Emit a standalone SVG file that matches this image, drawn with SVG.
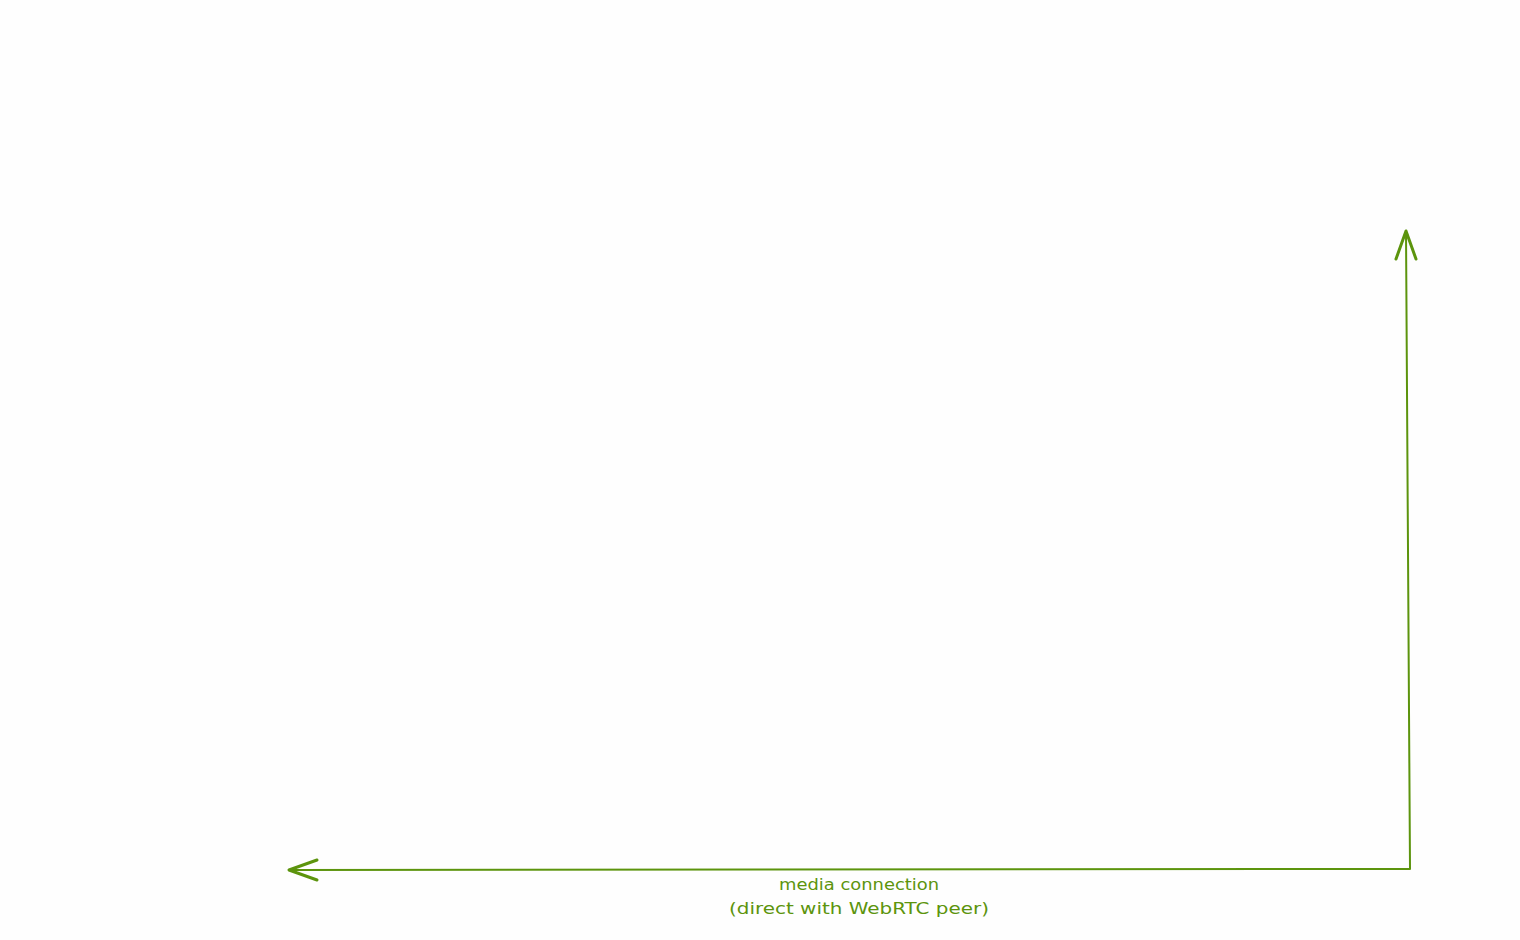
<svg xmlns="http://www.w3.org/2000/svg" width="1520" height="940" viewBox="0 0 1520 940">
<style>
.conn{fill:none;stroke:#5c940d;stroke-width:2;stroke-linecap:round;stroke-linejoin:round}
.head{fill:none;stroke:#5c940d;stroke-width:3;stroke-linecap:round;stroke-linejoin:round}
.lbl{font-family:"DejaVu Sans","Liberation Sans",sans-serif;font-size:16px;fill:#5c940d;text-anchor:middle}
</style>
<rect width="1520" height="940" fill="#fefefe"/>
<g id="connectors">
<g id="media-connection">
<path class="conn" d="M1406,231 L1410,869 L289,870"/>
<path class="head" d="M1396,259 L1406,231 L1416,259"/>
<path class="head" d="M317,860 L289,870 L317,880"/>
<text class="lbl" x="859" y="890" textLength="160" lengthAdjust="spacingAndGlyphs">media connection</text>
<text class="lbl" x="859" y="914" textLength="260" lengthAdjust="spacingAndGlyphs">(direct with WebRTC peer)</text>
</g>
</g>
</svg>
